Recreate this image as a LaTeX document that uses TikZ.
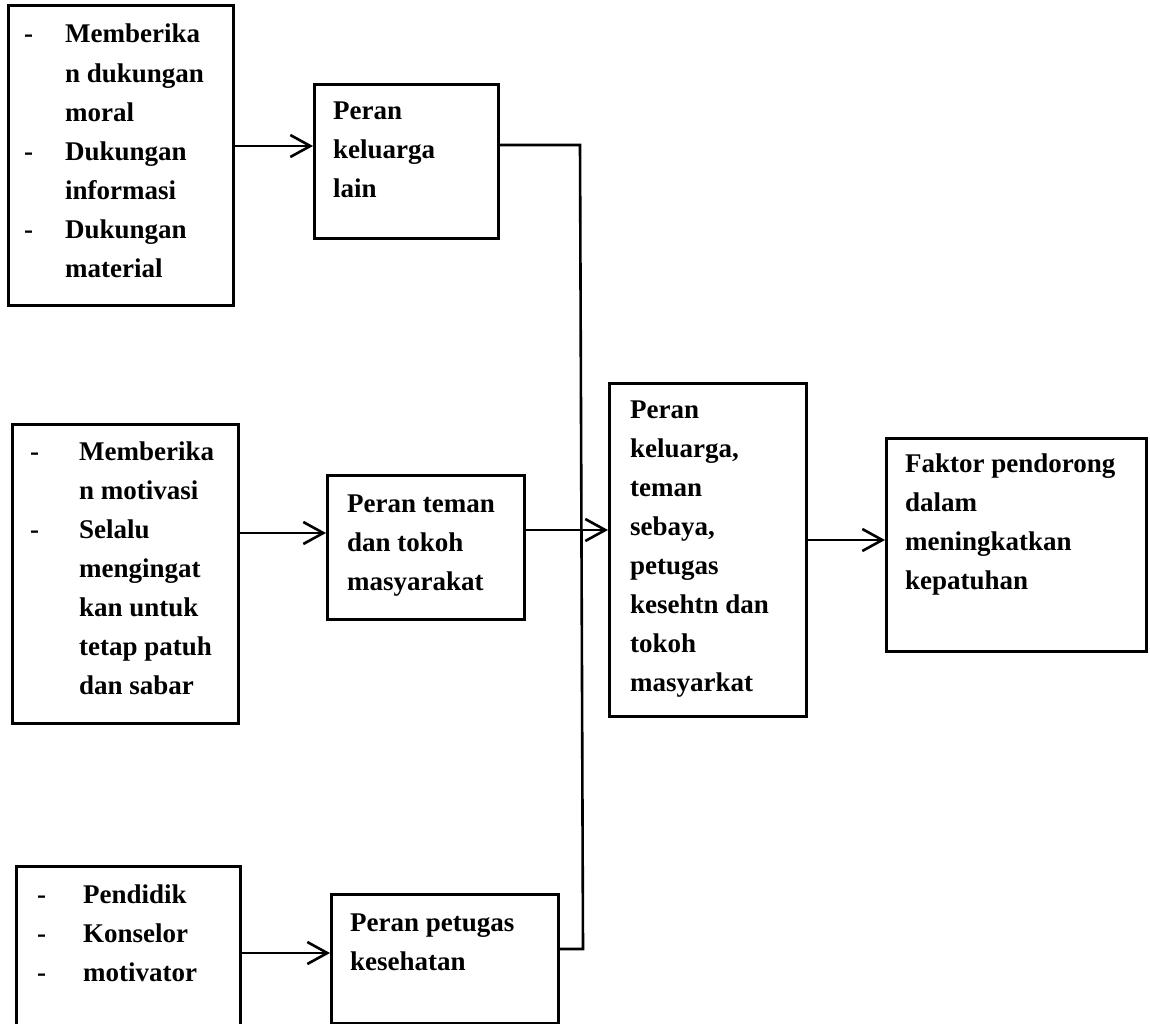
\documentclass[tikz,border=0pt]{standalone}
\usepackage{fontspec}
\setmainfont{Liberation Serif}
\usetikzlibrary{arrows.meta}
\begin{document}
\begin{tikzpicture}[x=1pt,y=-1pt,
  box/.style={draw, line width=2.6pt, rectangle, inner sep=0pt, anchor=north west},
  % texts are placed by the baseline of their last line
  txt/.style={anchor=base west, align=left, inner sep=0pt,
    font=\fontsize{27}{39}\selectfont\bfseries},
  conn/.style={line width=2.6pt},
  arr/.style={conn, -{Straight Barb[length=20pt,width=22pt]}}]
\useasboundingbox (0,0) rectangle (1150,1024);
\fill[white] (0,0) rectangle (1150,1024);
\begin{scope}
\clip (0,0) rectangle (1150,1024);

% boxes
\node[box, minimum width=225pt, minimum height=300pt] (A) at (7,4) {};
\node[box, minimum width=184pt, minimum height=154pt] (B) at (313,83) {};
\node[box, minimum width=226pt, minimum height=299pt] (C) at (11,423) {};
\node[box, minimum width=197pt, minimum height=144pt] (D) at (326,474) {};
\node[box, minimum width=197pt, minimum height=333pt] (E) at (608,382) {};
\node[box, minimum width=260pt, minimum height=213pt] (F) at (885,437) {};
\node[box, minimum width=224pt, minimum height=185pt] (G) at (15,865) {};
\node[box, minimum width=227pt, minimum height=129pt] (H) at (330,893) {};

% texts
\node[txt] (At) at (24,277) {\makebox[41pt][l]{-}Memberika\\
  \hspace*{41pt}n dukungan\\
  \hspace*{41pt}moral\\
  \makebox[41pt][l]{-}Dukungan\\
  \hspace*{41pt}informasi\\
  \makebox[41pt][l]{-}Dukungan\\
  \hspace*{41pt}material};
\node[txt] (Bt) at (333,198) {Peran\\keluarga\\lain};
\node[txt] (Ct) at (30,694) {\makebox[49pt][l]{-}Memberika\\
  \hspace*{49pt}n motivasi\\
  \makebox[49pt][l]{-}Selalu\\
  \hspace*{49pt}mengingat\\
  \hspace*{49pt}kan untuk\\
  \hspace*{49pt}tetap patuh\\
  \hspace*{49pt}dan sabar};
\node[txt] (Dt) at (347,590) {Peran teman\\dan tokoh\\masyarakat};
\node[txt] (Et) at (630,691) {Peran\\keluarga,\\teman\\sebaya,\\petugas\\kesehtn dan\\tokoh\\masyarkat};
\node[txt] (Ft) at (905,589) {Faktor pendorong\\dalam\\meningkatkan\\kepatuhan};
\node[txt] (Gt) at (37,981) {\makebox[46pt][l]{-}Pendidik\\
  \makebox[46pt][l]{-}Konselor\\
  \makebox[46pt][l]{-}motivator};
\node[txt] (Ht) at (350,970) {Peran petugas\\kesehatan};

% connectors
\coordinate (jt) at (580,145);
\coordinate (jb) at (583,949);
\draw[arr] (A.east |- 0,146) -- (B.west |- 0,146);
\draw[conn] (B.east |- jt) -- (jt) -- (jb) -- (H.east |- jb);
\draw[arr] (C.east |- 0,533) -- (D.west |- 0,533);
\draw[arr] (D.east |- 0,530) -- (E.west |- 0,530);
\draw[arr] (E.east |- 0,540) -- (F.west |- 0,540);
\draw[arr] (G.east |- 0,953) -- (H.west |- 0,953);
\end{scope}
\end{tikzpicture}
\end{document}
